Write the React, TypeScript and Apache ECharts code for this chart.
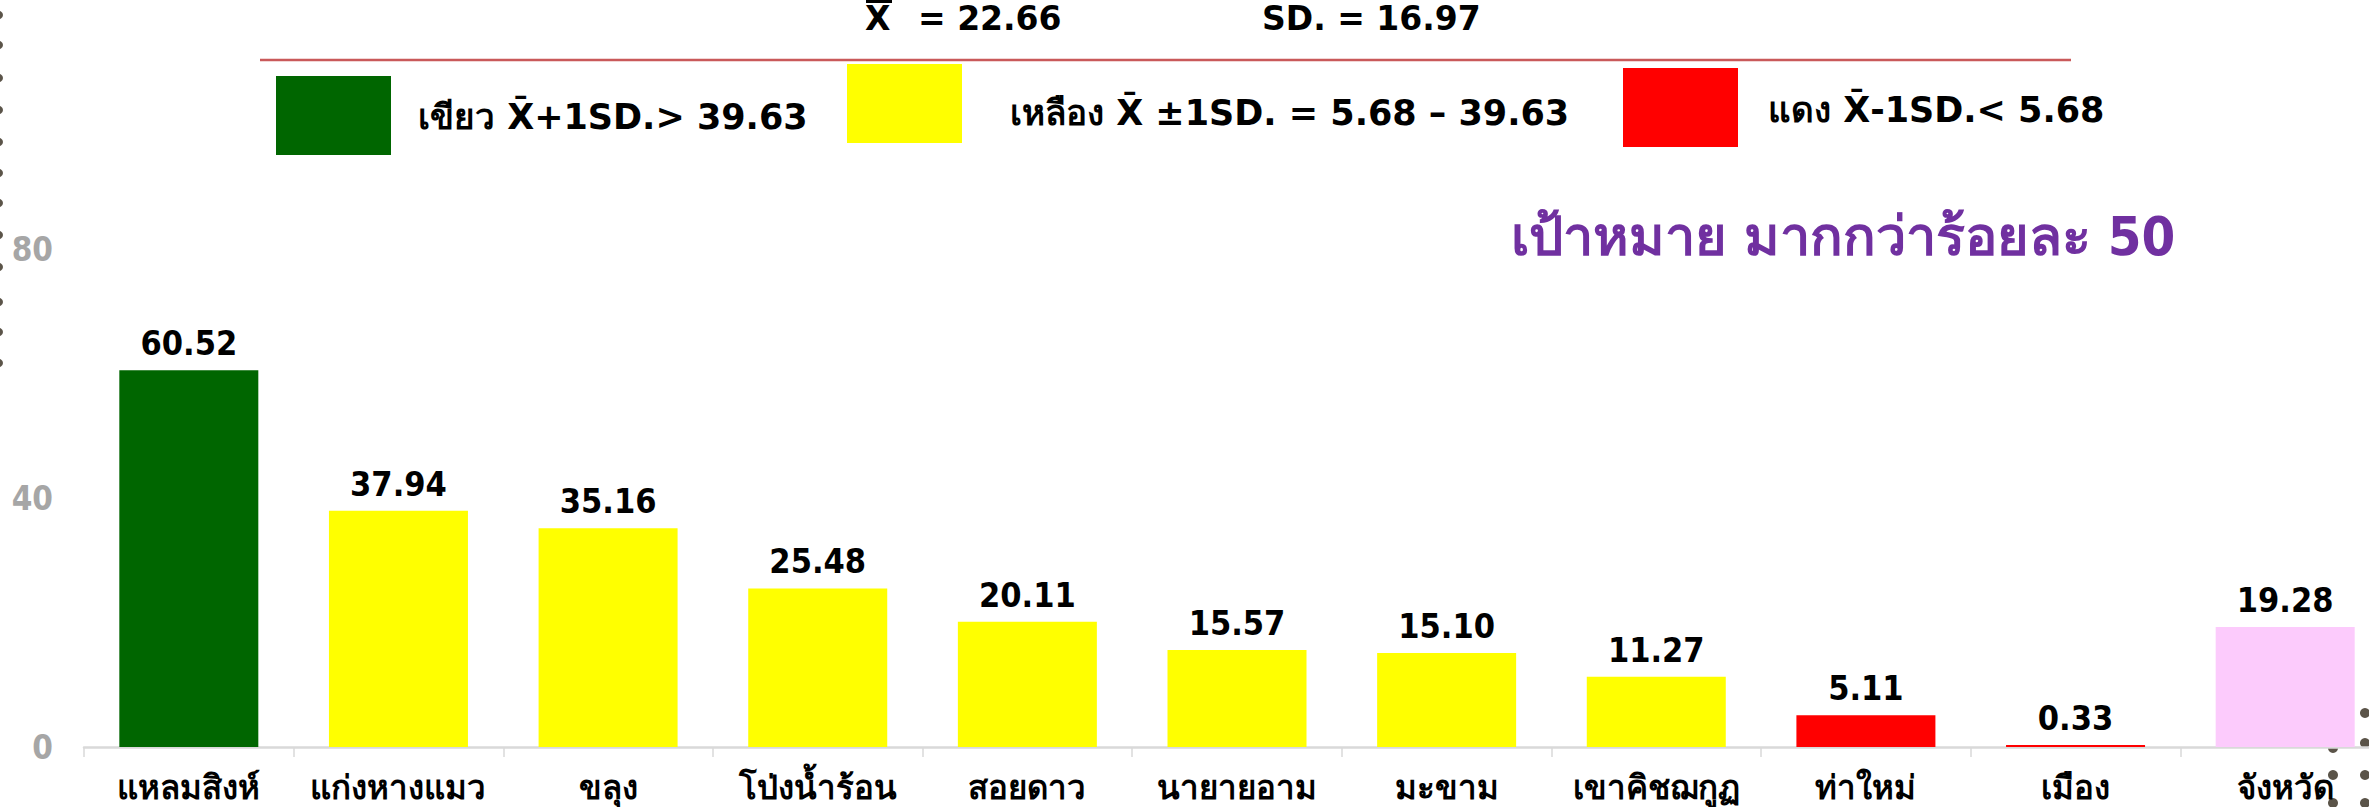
import React, { useEffect, useRef } from "react";
import * as echarts from "echarts";

const categories = [
  "แหลมสิงห์",
  "แก่งหางแมว",
  "ขลุง",
  "โป่งน้ำร้อน",
  "สอยดาว",
  "นายายอาม",
  "มะขาม",
  "เขาคิชฌกูฏ",
  "ท่าใหม่",
  "เมือง",
  "จังหวัด",
];
const values = [60.52, 37.94, 35.16, 25.48, 20.11, 15.57, 15.1, 11.27, 5.11, 0.33, 19.28];
const barColors = [
  "#006600",
  "#ffff00",
  "#ffff00",
  "#ffff00",
  "#ffff00",
  "#ffff00",
  "#ffff00",
  "#ffff00",
  "#ff0000",
  "#ff0000",
  "#fccbfc",
];
const yTicks = { min: 0, max: 100, interval: 40 };
const meanSymbol = "X";
const meanText = "= 22.66";
const sdText = "SD. = 16.97";
const legendTexts = [
  "เขียว X̄+1SD.> 39.63",
  "เหลือง X̄ ±1SD. = 5.68 – 39.63",
  "แดง X̄-1SD.< 5.68",
];
const legendColors = ["#006600", "#ffff00", "#ff0000"];
const titleText = "เป้าหมาย มากกว่าร้อยละ 50";

const FONT = "'DejaVu Sans Condensed', 'DejaVu Sans', Tahoma, sans-serif";
const FONT_W = "'DejaVu Sans', Tahoma, sans-serif";

export default function App() {
  const ref = useRef<HTMLDivElement>(null);
  useEffect(() => {
    if (!ref.current) return;
    const chart = echarts.init(ref.current, undefined, { renderer: "svg" });
    const dotColor = "#5b5449";
    const leftDots = [15, 45, 78, 110, 142, 173, 203, 235, 267, 302, 332, 363].map((y) => ({
      type: "circle",
      z: -10,
      shape: { cx: -1, cy: y, r: 4 },
      style: { fill: dotColor },
    }));
    const rightDotPos = [
      [2365, 713],
      [2365, 743],
      [2365, 775],
      [2365, 803],
      [2333, 748],
      [2333, 775],
      [2333, 803],
    ];
    const rightDots = rightDotPos.map(([x, y]) => ({
      type: "circle",
      z: -10,
      shape: { cx: x, cy: y, r: 5 },
      style: { fill: dotColor },
    }));
    const legendRects = [
      [276, 76],
      [847, 64],
      [1623, 68],
    ].map(([x, y], i) => ({
      type: "rect",
      shape: { x, y, width: 115, height: 79 },
      style: { fill: legendColors[i] },
    }));
    const legendTextPos = [
      [418, 117],
      [1010, 113],
      [1768, 110],
    ];
    const legendTextEls = legendTextPos.map(([x, y], i) => ({
      type: "text",
      x,
      y,
      style: {
        text: legendTexts[i],
        font: `bold 35px ${FONT_W}`,
        fill: "#000",
        align: "left",
        verticalAlign: "middle",
      },
    }));

    chart.setOption({
      animation: false,
      backgroundColor: "#ffffff",
      grid: {
        left: 84,
        right: -21,
        top: 124.5,
        bottom: 60,
        containLabel: false,
        outerBoundsMode: "none",
      },
      xAxis: {
        type: "category",
        data: categories,
        axisLine: { show: true, lineStyle: { color: "#d9d9d9", width: 2.5 } },
        axisTick: { show: true, length: 10, lineStyle: { color: "#d9d9d9", width: 1.5 } },
        axisLabel: {
          interval: 0,
          margin: 24,
          fontSize: 33,
          fontWeight: "bold",
          color: "#000",
          fontFamily: FONT,
        },
      },
      yAxis: {
        type: "value",
        min: yTicks.min,
        max: yTicks.max,
        interval: yTicks.interval,
        splitLine: { show: false },
        axisLine: { show: false },
        axisTick: { show: false },
        axisLabel: {
          showMaxLabel: false,
          margin: 31,
          fontSize: 33,
          fontWeight: "bold",
          color: "#a6a6a6",
          fontFamily: FONT,
        },
      },
      series: [
        {
          type: "bar",
          barWidth: 139,
          data: values.map((v, i) => ({ value: v, itemStyle: { color: barColors[i] } })),
          label: {
            show: true,
            position: "top",
            distance: 10,
            fontSize: 34,
            fontWeight: "bold",
            color: "#000",
            fontFamily: FONT,
            formatter: (p: any) => Number(p.value).toFixed(2),
          },
        },
      ],
      graphic: [
        ...leftDots,
        ...rightDots,
        {
          type: "rect",
          shape: { x: 866, y: 0, width: 26, height: 3 },
          style: { fill: "#000" },
        },
        {
          type: "text",
          x: 865,
          y: 18,
          style: {
            text: meanSymbol,
            font: `bold 33px ${FONT_W}`,
            fill: "#000",
            align: "left",
            verticalAlign: "middle",
          },
        },
        {
          type: "text",
          x: 918,
          y: 18,
          style: {
            text: meanText,
            font: `bold 33px ${FONT_W}`,
            fill: "#000",
            align: "left",
            verticalAlign: "middle",
          },
        },
        {
          type: "text",
          x: 1262,
          y: 18,
          style: {
            text: sdText,
            font: `bold 33px ${FONT_W}`,
            fill: "#000",
            align: "left",
            verticalAlign: "middle",
          },
        },
        {
          type: "line",
          shape: { x1: 260, y1: 60, x2: 2071, y2: 60 },
          style: { stroke: "#c9595a", lineWidth: 2.5 },
        },
        ...legendRects,
        ...legendTextEls,
        {
          type: "text",
          x: 1511,
          y: 236,
          style: {
            text: titleText,
            font: `bold 54px ${FONT}`,
            fill: "#7030a0",
            align: "left",
            verticalAlign: "middle",
          },
        },
      ],
    });
    return () => chart.dispose();
  }, []);
  return (
    <div
      ref={ref}
      style={{ position: "absolute", left: 0, top: 0, width: 2369, height: 807, overflow: "hidden" }}
    />
  );
}
